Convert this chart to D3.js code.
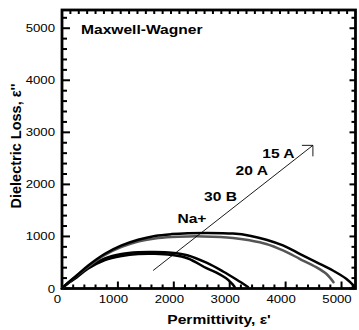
<!DOCTYPE html>
<html>
<head>
<meta charset="utf-8">
<script src="https://cdn.jsdelivr.net/npm/d3@7"></script>
<style>
  body { margin: 0; background: #fff; }
  svg { display: block; }
  text { font-family: "Liberation Sans", Arial, sans-serif; fill: #000; }
</style>
</head>
<body>
<svg id="chart" width="359" height="330"></svg>
<script>
/* ── Data ────────────────────────────────────────────────────────── */
// Cole-Cole style arcs: [permittivity e', loss e'']
const naPlus = [[0,0],[60,60],[262,212],[470,385],[768,548],[1066,625],[1362,663],[1661,667],
                [1959,644],[2255,577],[2584,390],[2763,305],[2929,200],[3036,100],[3089,30]];
const b30    = [[0,0],[60,62],[262,231],[470,404],[768,577],[1066,663],[1362,698],[1661,702],
                [1959,687],[2255,635],[2584,495],[2880,327],[3120,173],[3327,30]];
const a20    = [[0,0],[55,58],[262,245],[470,423],[768,644],[1066,798],[1362,904],[1661,962],
                [1959,990],[2255,1000],[2523,1000],[3059,971],[3357,925],[3655,855],[3952,731],
                [4250,571],[4548,410],[4727,283],[4857,121]];
const a15    = [[0,0],[54,58],[262,250],[470,442],[768,667],[1066,827],[1362,937],[1661,1010],
                [1959,1045],[2255,1062],[2600,1068],[3059,1055],[3357,1015],[3655,937],[3952,827],
                [4250,667],[4548,506],[4845,346],[5084,187],[5232,40]];

const seriesData   = [naPlus, b30, a20, a15];
const seriesLabels = ['Na+', '30 B', '20 A', '15 A'];
const seriesColors = ['#000', '#000', '#555', '#000'];
// label anchors (right end of text, baseline) in data units
const labelAnchors = [[2584,1256],[3130,1679],[3684,2173],[4161,2513]];

const arrowFrom = [1630, 346];
const arrowTo   = [4488, 2750];

const xTicks = [0, 1000, 2000, 3000, 4000, 5000];
const yTicks = [0, 1000, 2000, 3000, 4000, 5000];

const xDomain = [0, 5250];
const yDomain = [0, 5350];

/* ── Layout ──────────────────────────────────────────────────────── */
const L = 62, R = 355.5, T = 10, B = 288.5;
const SX = 1.2;   // the reference's text is stretched horizontally

const svg = d3.select('#chart');
const x = d3.scaleLinear().domain(xDomain).range([L, R]);
const y = d3.scaleLinear().domain(yDomain).range([B, T]);

function hText(g, str, px, py, opts = {}) {
  return g.append('text')
    .attr('transform', `translate(${px},${py}) scale(${SX},1)`)
    .attr('text-anchor', opts.anchor || 'start')
    .attr('font-size', (opts.size || 11) + 'px')
    .attr('font-weight', opts.bold ? 'bold' : 'normal')
    .attr('dy', opts.dy || null)
    .text(str);
}

/* ── Ticks (mirrored, pointing inwards) ──────────────────────────── */
const gT = svg.append('g').attr('stroke', '#000').attr('stroke-width', 2);
const minorX = d3.range(0, xDomain[1], 200);
const minorY = d3.range(0, yDomain[1], 200);

minorX.forEach(v => {
  const major = v % 1000 === 0;
  gT.append('line').attr('x1', x(v)).attr('x2', x(v))
    .attr('y1', B).attr('y2', B - (major ? 7 : 4));
});
d3.range(0, xDomain[1], 150).forEach(v => {
  gT.append('line').attr('x1', x(v)).attr('x2', x(v))
    .attr('y1', T).attr('y2', T + 4);
});
minorY.forEach(v => {
  const major = v % 1000 === 0;
  gT.append('line').attr('y1', y(v)).attr('y2', y(v))
    .attr('x1', L).attr('x2', L + (major ? 8 : 5));
  gT.append('line').attr('y1', y(v)).attr('y2', y(v))
    .attr('x1', R).attr('x2', R - (major ? 6 : 4));
});

/* ── Frame ───────────────────────────────────────────────────────── */
svg.append('rect')
  .attr('x', L).attr('y', T).attr('width', R - L).attr('height', B - T)
  .attr('fill', 'none').attr('stroke', '#000').attr('stroke-width', 2.8);

/* ── Tick labels ─────────────────────────────────────────────────── */
const gL = svg.append('g');
xTicks.forEach(v => hText(gL, String(v), x(v) - 4.5, 303, { anchor: 'middle', size: 11 }));
yTicks.forEach(v => hText(gL, String(v), 55, y(v) + (v === 0 ? 1 : 0), { anchor: 'end', size: 11, dy: '0.36em' }));

/* ── Curves ──────────────────────────────────────────────────────── */
const line = d3.line().x(d => x(d[0])).y(d => y(d[1])).curve(d3.curveCatmullRom.alpha(0.5));
const gC = svg.append('g').attr('fill', 'none');
seriesData.forEach((s, i) => {
  gC.append('path').attr('d', line(s))
    .attr('stroke', seriesColors[i]).attr('stroke-width', 2.5)
    .attr('stroke-linecap', 'round').attr('stroke-linejoin', 'round');
});

/* ── Arrow ───────────────────────────────────────────────────────── */
const ax = x(arrowTo[0]), ay = y(arrowTo[1]);
svg.append('line')
  .attr('x1', x(arrowFrom[0])).attr('y1', y(arrowFrom[1]))
  .attr('x2', ax).attr('y2', ay)
  .attr('stroke', '#000').attr('stroke-width', 0.9);
svg.append('path')
  .attr('d', `M${ax - 11},${ay}L${ax},${ay}L${ax},${ay + 11}`)
  .attr('fill', 'none').attr('stroke', '#000').attr('stroke-width', 0.9);

/* ── Series labels ───────────────────────────────────────────────── */
seriesLabels.forEach((t, i) => {
  hText(svg, t, x(labelAnchors[i][0]), y(labelAnchors[i][1]), { anchor: 'end', size: 13, bold: true });
});

/* ── Titles ──────────────────────────────────────────────────────── */
hText(svg, 'Maxwell-Wagner', 81, 34, { size: 13, bold: true });
hText(svg, "Permittivity, ε'", 219, 323.5, { anchor: 'middle', size: 13, bold: true });
svg.append('text')
  .attr('transform', 'translate(21,146) rotate(-90)')
  .attr('text-anchor', 'middle')
  .attr('font-size', '14.5px')
  .attr('font-weight', 'bold')
  .text("Dielectric Loss, ε''");
</script>
</body>
</html>
